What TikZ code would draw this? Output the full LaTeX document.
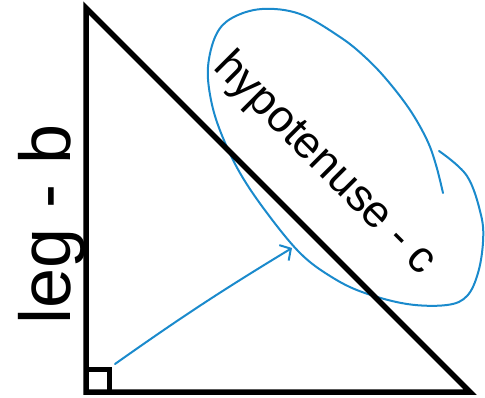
\documentclass[tikz,border=0pt]{standalone}
\usepackage{fontspec}
\setmainfont{Liberation Sans}
\usetikzlibrary{arrows.meta, calc}
\definecolor{penblue}{RGB}{26,138,204}
\tikzset{
    sketch/.style={x=1pt, y=-1pt},
    side/.style={line width=5.5pt, line join=miter},
    pen/.style={draw=penblue, line width=2pt, line cap=round, line join=round},
    sidename/.style={inner sep=0pt, text=black, anchor=base west},
    % open hand-drawn head for the pointer
    penhead/.style={-{Straight Barb[length=8pt, width=18pt]}},
}
\begin{document}
\begin{tikzpicture}[sketch]
    \useasboundingbox (0,0) rectangle (485,398);

    \coordinate (apex)   at (86,8);
    \coordinate (corner) at (86,392);
    \coordinate (foot)   at (470,392);
    \coordinate (tail)   at (115,364);
    \coordinate (tip)    at (292,248);

    % loop round the hypotenuse name
    \draw[pen] plot[smooth, tension=0.6] coordinates {
        (443,193) (436,165) (427,140) (410,110) (387,80) (365,57) (340,37)
        (300,14) (262,9) (232,18) (216,35) (208,67) (211,100) (221,133)
        (240,173) (267,213) (300,253) (330,276) (362,292) (407,304)
        (447,305) (467,296) (478,273) (483,242) (481,215) (467,176) (439,151)};

    \draw[side] (apex) -- (corner) -- (foot) -- cycle;
    \draw[line width=5pt] ($(corner)+(0,-23)$) -| ($(corner)+(23,0)$);

    \node[sidename, rotate=90, font=\fontsize{72}{80}\selectfont] (leg) at (70,325) {leg - b};
    \node[sidename, rotate=-45, font=\fontsize{45}{52}\selectfont] (hyp) at (212,68) {hypotenuse - c};

    \draw[pen, penhead] (tail) to[bend left=2] (tip);
\end{tikzpicture}
\end{document}
